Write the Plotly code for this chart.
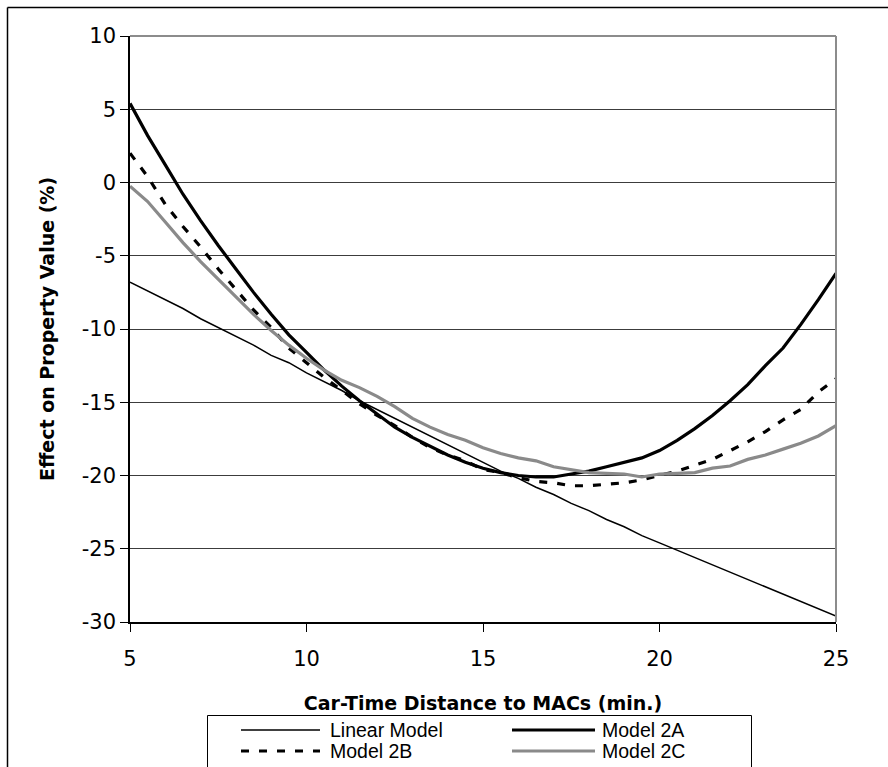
import plotly.graph_objects as go

# ---------------- data ----------------
minutes = [5, 5.5, 6, 6.5, 7, 7.5, 8, 8.5, 9, 9.5, 10, 10.5, 11, 11.5, 12, 12.5, 13, 13.5,
           14, 14.5, 15, 15.5, 16, 16.5, 17, 17.5, 18, 18.5, 19, 19.5, 20, 20.5, 21, 21.5,
           22, 22.5, 23, 23.5, 24, 24.5, 25]

linear_model = [-6.8, -7.4, -8.0, -8.6, -9.3, -9.9, -10.5, -11.1, -11.8, -12.3, -13.0, -13.6,
                -14.2, -14.9, -15.5, -16.1, -16.7, -17.3, -17.9, -18.5, -19.1, -19.7, -20.2,
                -20.8, -21.3, -21.9, -22.4, -23.0, -23.5, -24.1, -24.6, -25.1, -25.6, -26.1,
                -26.6, -27.1, -27.6, -28.1, -28.6, -29.1, -29.6]

model_2a = [5.4, 3.2, 1.2, -0.8, -2.6, -4.3, -5.9, -7.5, -9.0, -10.4, -11.6, -12.8, -13.9,
            -14.9, -15.8, -16.7, -17.4, -18.0, -18.6, -19.1, -19.5, -19.8, -20.0, -20.1,
            -20.1, -19.9, -19.7, -19.4, -19.1, -18.8, -18.3, -17.6, -16.8, -15.9, -14.9,
            -13.8, -12.5, -11.3, -9.7, -8.0, -6.2]

model_2b = [2.0, 0.4, -1.5, -3.0, -4.4, -5.9, -7.3, -8.7, -9.9, -11.3, -12.3, -13.3, -14.2,
            -15.1, -15.9, -16.6, -17.4, -18.1, -18.6, -19.0, -19.6, -19.8, -20.15, -20.4,
            -20.5, -20.7, -20.7, -20.6, -20.5, -20.3, -20.0, -19.7, -19.3, -18.9, -18.3,
            -17.7, -17.0, -16.2, -15.5, -14.3, -13.4]

model_2c = [-0.25, -1.3, -2.7, -4.1, -5.4, -6.6, -7.8, -9.0, -10.1, -11.1, -12.0, -12.8,
            -13.5, -14.0, -14.6, -15.3, -16.1, -16.7, -17.2, -17.6, -18.1, -18.5, -18.8,
            -19.0, -19.4, -19.6, -19.8, -19.85, -19.9, -20.1, -19.9, -19.85, -19.8, -19.5,
            -19.35, -18.9, -18.6, -18.2, -17.8, -17.3, -16.6]

series_names = ["Linear Model", "Model 2A", "Model 2B", "Model 2C"]
x_ticks = [5, 10, 15, 20, 25]
y_ticks = [10, 5, 0, -5, -10, -15, -20, -25, -30]

# ---------------- styles ----------------
FONT = "Liberation Sans, Arial, sans-serif"
WIDE = "DejaVu Sans, Liberation Sans, sans-serif"
styles = {
    "Linear Model": dict(color="black", width=1.5, dash="solid"),
    "Model 2A": dict(color="black", width=3.2, dash="solid"),
    "Model 2B": dict(color="black", width=3.2, dash="8px,10px"),
    "Model 2C": dict(color="#8a8a8a", width=3.2, dash="solid"),
}
values = {
    "Linear Model": linear_model,
    "Model 2A": model_2a,
    "Model 2B": model_2b,
    "Model 2C": model_2c,
}

W, H = 888, 767
ML, MR, MT, MB = 130, 52, 36, 145
PW, PH = W - ML - MR, H - MT - MB


def px_x(p):
    return (p - ML) / PW


def px_y(p):
    return (H - MB - p) / PH


fig = go.Figure()
for name in series_names:
    fig.add_trace(go.Scatter(
        x=minutes, y=values[name], mode="lines", name=name,
        line=styles[name], showlegend=False, hoverinfo="x+y+name",
    ))

shapes = []
# plot-area border (top & right) in gray
shapes.append(dict(type="line", xref="paper", yref="paper", x0=0, x1=1, y0=1, y1=1,
                   line=dict(color="#8c8c8c", width=2), layer="above"))
shapes.append(dict(type="line", xref="paper", yref="paper", x0=1, x1=1, y0=0, y1=1,
                   line=dict(color="#8c8c8c", width=2), layer="above"))
# outer chart border (only left and top visible in the crop)
shapes.append(dict(type="line", xref="paper", yref="paper", x0=px_x(7.5), x1=px_x(7.5),
                   y0=px_y(7.5), y1=px_y(800), line=dict(color="black", width=1.5)))
shapes.append(dict(type="line", xref="paper", yref="paper", x0=px_x(7.5), x1=px_x(888),
                   y0=px_y(7.5), y1=px_y(7.5), line=dict(color="black", width=1.5)))
# legend box
shapes.append(dict(type="rect", xref="paper", yref="paper", x0=px_x(207.5), x1=px_x(751.5),
                   y0=px_y(715.5), y1=px_y(800), line=dict(color="black", width=1),
                   fillcolor="white"))

annotations = []
legend_pos = {
    "Linear Model": (241, 320, 328, 730),
    "Model 2A": (512, 595, 600, 730),
    "Model 2B": (241, 320, 328, 751),
    "Model 2C": (512, 595, 600, 751),
}
for name in series_names:
    lx0, lx1, tx, ty = legend_pos[name]
    st = styles[name]
    shapes.append(dict(type="line", xref="paper", yref="paper", x0=px_x(lx0), x1=px_x(lx1),
                       y0=px_y(ty), y1=px_y(ty),
                       line=dict(color=st["color"], width=st["width"], dash=st["dash"])))
    annotations.append(dict(xref="paper", yref="paper", x=px_x(tx), y=px_y(ty),
                            text=name, showarrow=False, xanchor="left", yanchor="middle",
                            font=dict(family=FONT, size=19.5, color="black")))

fig.update_layout(
    width=W, height=H,
    margin=dict(l=ML, r=MR, t=MT, b=MB, pad=0),
    paper_bgcolor="white", plot_bgcolor="white",
    font=dict(family=FONT, color="black"),
    shapes=shapes, annotations=annotations,
    showlegend=False,
)
fig.update_xaxes(
    range=[5, 25], tickvals=x_ticks, ticktext=[str(v) for v in x_ticks],
    showgrid=False, zeroline=False,
    showline=True, linecolor="black", linewidth=1.5,
    ticks="outside", ticklen=8, tickwidth=1, tickcolor="black",
    tickfont=dict(family=WIDE, size=21, color="black"),
    ticklabelstandoff=9,
    title=dict(text="<b>Car-Time Distance to MACs (min.)</b>",
               font=dict(family=WIDE, size=19, color="black"), standoff=27),
)
fig.update_yaxes(
    range=[-30, 10], tickvals=y_ticks, ticktext=[str(v) for v in y_ticks],
    showgrid=True, gridcolor="#3c3c3c", gridwidth=1, zeroline=False,
    showline=True, linecolor="black", linewidth=1.5,
    ticks="outside", ticklen=8, tickwidth=1, tickcolor="black",
    tickfont=dict(family=WIDE, size=21, color="black"),
    title=dict(text="<b>Effect on Property Value (%)</b>",
               font=dict(family=WIDE, size=19, color="black"), standoff=22),
)

fig.write_html(
    "out.html",
    config={"displayModeBar": False},
    post_script="document.body.style.margin='0px';document.body.style.overflow='hidden';",
)
